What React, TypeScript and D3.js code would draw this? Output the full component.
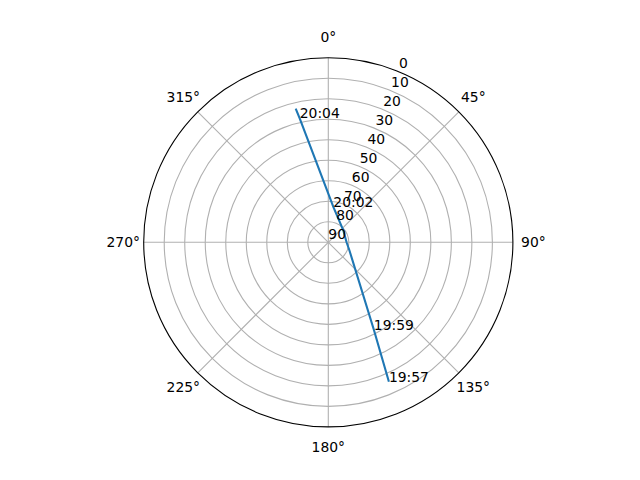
import * as d3 from 'd3';

// satellite pass, azimuth (deg, clockwise from N) and elevation (deg)
const trackTimes = ['19:57', '19:59', '', '', '', '20:02', '20:04', ''];
const trackAz = [156.5, 152.5, 110.1, 90.0, 50.6, 8.1, 347.0, 346.3];
const trackEl = [15.9, 41.9, 79.1, 81.1, 80.6, 72.6, 28.0, 22.9];

const radialTicks = [0, 10, 20, 30, 40, 50, 60, 70, 80, 90];
const angleTicks = [0, 45, 90, 135, 180, 225, 270, 315];

const W = 640;
const H = 480;
const CX = 328.3;
const CY = 242.3;
const R = 184.6;
const FONT = 'DejaVu Sans, sans-serif';
const FS = 13.9;

export default function App() {
  const r = d3.scaleLinear().domain([90, 0]).range([0, R]);
  const rad = (deg: number) => (deg * Math.PI) / 180;
  const pt = (az: number, el: number): [number, number] => [
    r(el) * Math.sin(rad(az)),
    -r(el) * Math.cos(rad(az)),
  ];

  const idx = d3.range(trackAz.length);
  const line = d3
    .lineRadial<number>()
    .angle((i) => rad(trackAz[i]))
    .radius((i) => r(trackEl[i]));

  return (
    <svg
      width={W}
      height={H}
      viewBox={`0 0 ${W} ${H}`}
      style={{ position: 'absolute', left: 0, top: 0, background: '#fff' }}
      fontFamily={FONT}
      fontSize={FS}
    >
      <g transform={`translate(${CX},${CY})`}>
        {radialTicks
          .filter((v) => v > 0 && v < 90)
          .map((v) => (
            <circle key={v} r={r(v)} fill="none" stroke="#b0b0b0" strokeWidth={1.1} />
          ))}
        {angleTicks.map((a) => {
          const [x, y] = pt(a, 0);
          return <line key={a} x1={0} y1={0} x2={x} y2={y} stroke="#b0b0b0" strokeWidth={1.1} />;
        })}
        <circle r={R} fill="none" stroke="#000" strokeWidth={1.1} />

        <path d={line(idx) ?? ''} fill="none" stroke="#1f77b4" strokeWidth={2.1} />

        {angleTicks.map((a) => {
          const rr = R + 20.5;
          return (
            <text
              key={a}
              x={rr * Math.sin(rad(a))}
              y={-rr * Math.cos(rad(a))}
              textAnchor="middle"
              dominantBaseline="central"
            >
              {a}°
            </text>
          );
        })}

        {radialTicks.map((v) => {
          const [x, y] = pt(22.5, v);
          return (
            <text key={v} x={x} y={y - 3.3}>
              {v}
            </text>
          );
        })}

        {idx
          .filter((i) => trackTimes[i])
          .map((i) => {
            const [x, y] = pt(trackAz[i], trackEl[i]);
            return (
              <text key={i} x={x} y={y}>
                {trackTimes[i]}
              </text>
            );
          })}
      </g>
    </svg>
  );
}
